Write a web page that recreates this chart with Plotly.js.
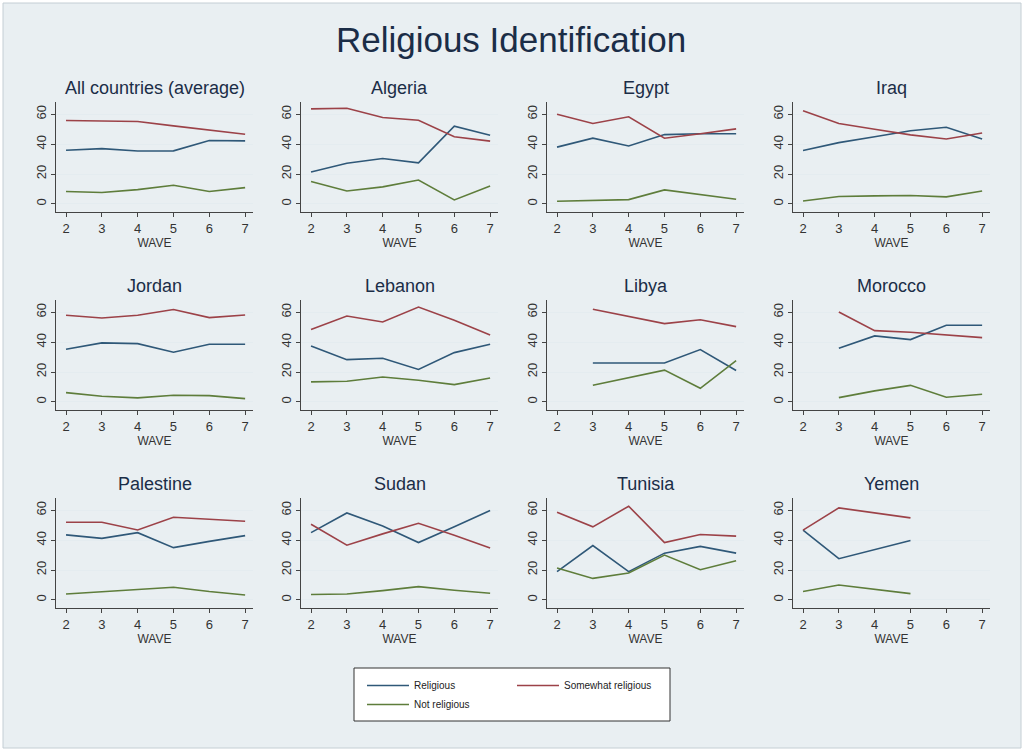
<!DOCTYPE html>
<html>
<head>
<meta charset="utf-8">
<script src="https://cdn.plot.ly/plotly-3.0.1.min.js"></script>
<style>html,body{margin:0;padding:0;background:#ffffff;}#chart{width:1024px;height:751px;}</style>
</head>
<body>
<div id="chart"></div>
<script>
// ---- data ----
const waves = [2, 3, 4, 5, 6, 7];
const countries = ["All countries (average)", "Algeria", "Egypt", "Iraq",
  "Jordan", "Lebanon", "Libya", "Morocco",
  "Palestine", "Sudan", "Tunisia", "Yemen"];
const seriesNames = ["Religious", "Somewhat religious", "Not religious"];

const religious = [
  [35.9, 37.0, 35.4, 35.5, 42.4, 42.2],
  [21.4, 27.2, 30.4, 27.5, 52.0, 46.0],
  [38.0, 44.0, 38.8, 46.4, 47.0, 47.0],
  [35.7, 41.0, 45.0, 49.0, 51.3, 43.5],
  [35.3, 39.5, 39.0, 33.3, 38.6, 38.6],
  [37.5, 28.3, 29.2, 21.7, 33.0, 38.6],
  [null, 26.0, null, 26.0, 35.0, 21.0],
  [null, 35.9, 44.2, 41.7, 51.3, 51.3],
  [43.5, 41.2, 45.0, 35.0, 39.2, 43.0],
  [45.0, 58.2, 49.5, 38.4, 49.0, 59.8],
  [18.9, 36.4, 18.9, 31.3, 35.8, 31.3],
  [46.7, 27.6, null, 39.8, null, null]
];
const somewhat = [
  [55.8, 55.5, 55.2, 52.2, 49.5, 46.6],
  [63.6, 64.0, 57.8, 56.0, 45.0, 42.0],
  [60.0, 53.8, 58.3, 44.0, 47.0, 50.2],
  [62.3, 53.8, 50.0, 46.2, 43.5, 47.5],
  [58.0, 56.2, 58.0, 61.8, 56.4, 58.2],
  [48.4, 57.5, 53.5, 63.5, 54.6, 44.8],
  [null, 62.0, null, 52.4, 55.0, 50.4],
  [null, 60.2, 47.7, 46.6, 45.0, 43.0],
  [52.0, 52.0, 46.8, 55.3, 54.0, 52.6],
  [50.6, 36.6, 44.2, 51.3, 43.3, 34.8],
  [58.7, 48.9, 62.7, 38.4, 43.8, 42.7],
  [46.7, 61.6, null, 54.9, null, null]
];
const notReligious = [
  [8.3, 7.6, 9.6, 12.5, 8.3, 10.9],
  [15.0, 8.7, 11.4, 16.0, 2.7, 12.0],
  [1.8, 2.2, 2.9, 9.4, 6.2, 3.1],
  [2.0, 5.0, 5.4, 5.6, 4.7, 8.7],
  [6.2, 3.8, 2.7, 4.5, 4.2, 2.2],
  [13.4, 13.8, 16.7, 14.5, 11.6, 16.0],
  [null, 11.1, null, 21.3, 9.1, 27.6],
  [null, 2.9, 7.4, 11.1, 3.1, 5.1],
  [4.0, 5.6, 6.7, 8.5, 5.6, 3.3],
  [3.6, 4.0, 6.2, 8.9, 6.5, 4.5],
  [21.3, 14.4, 18.0, 30.0, 20.2, 26.2],
  [5.6, 10.0, null, 4.2, null, null]
];
const xTicks = [2, 3, 4, 5, 6, 7];
const yTicks = [0, 20, 40, 60];

// ---- styling ----
const W = 1024, H = 751;
const colors = ["#2f5878", "#9c4248", "#5e7d3b"];
const FONT = "Liberation Sans, Arial, sans-serif";
const colLeft = [56, 301, 547, 793];
const plotW = 197;
const rowTop = [102, 300, 498];
const plotH = 110;
const px = v => v / W;
const py = v => 1 - v / H;

const allSeries = [religious, somewhat, notReligious];
const legendFor = ["legend", "legend2", "legend"];

const traces = [];
const layout = {
  width: W, height: H,
  margin: {l: 0, r: 0, t: 0, b: 0},
  paper_bgcolor: "#ffffff",
  plot_bgcolor: "#ffffff",
  font: {family: FONT, color: "#333333"},
  showlegend: true,
  title: {
    text: "Religious Identification",
    font: {family: FONT, size: 35, color: "#1b2d47"},
    x: px(511), xanchor: "center",
    y: py(40), yanchor: "middle", yref: "paper"
  },
  annotations: [],
  shapes: [
    {type: "rect", xref: "paper", yref: "paper", layer: "below",
     x0: px(3), x1: px(1021), y0: py(748), y1: py(3),
     fillcolor: "#e9eff2", line: {color: "#c4ced4", width: 1}},
    {type: "rect", xref: "paper", yref: "paper", layer: "below",
     x0: px(354), x1: px(670), y0: py(721), y1: py(668),
     fillcolor: "#ffffff", line: {color: "#333333", width: 1}}
  ],
  legend: {
    x: px(362), y: py(671), xanchor: "left", yanchor: "top",
    bgcolor: "rgba(0,0,0,0)", borderwidth: 0,
    font: {family: FONT, size: 10, color: "#222222"},
    tracegroupgap: 0, itemwidth: 42, traceorder: "normal"
  },
  legend2: {
    x: px(512), y: py(671), xanchor: "left", yanchor: "top",
    bgcolor: "rgba(0,0,0,0)", borderwidth: 0,
    font: {family: FONT, size: 10, color: "#222222"},
    itemwidth: 42
  }
};

countries.forEach((name, i) => {
  const row = Math.floor(i / 4), col = i % 4;
  const ax = i === 0 ? "" : String(i + 1);
  const xa = "x" + ax, ya = "y" + ax;
  allSeries.forEach((s, k) => {
    traces.push({
      type: "scatter", mode: "lines",
      x: waves, y: s[i],
      xaxis: xa, yaxis: ya,
      connectgaps: true,
      name: seriesNames[k],
      legend: legendFor[k],
      showlegend: i === 0,
      line: {color: colors[k], width: 1.6},
      hoverinfo: "skip"
    });
  });
  const x0 = colLeft[col], y0 = rowTop[row];
  layout["xaxis" + ax] = {
    domain: [px(x0), px(x0 + plotW)],
    anchor: ya,
    range: [1.72, 7.22],
    tickvals: xTicks,
    ticks: "outside", ticklen: 4, tickcolor: "#444444",
    showline: true, linecolor: "#444444", linewidth: 1,
    showgrid: false, zeroline: false,
    tickfont: {family: FONT, size: 13, color: "#333333"},
    title: {text: "WAVE", font: {family: FONT, size: 12, color: "#333333"}, standoff: 2}
  };
  layout["yaxis" + ax] = {
    domain: [py(y0 + plotH), py(y0)],
    anchor: xa,
    range: [-5.4, 68.2],
    tickvals: yTicks,
    tickangle: -90,
    ticks: "outside", ticklen: 4, tickcolor: "#444444",
    showline: true, linecolor: "#444444", linewidth: 1,
    showgrid: true, gridcolor: "#e4ecf0", gridwidth: 1,
    zeroline: false,
    tickfont: {family: FONT, size: 13, color: "#333333"}
  };
  layout.annotations.push({
    text: name, showarrow: false,
    xref: "paper", yref: "paper",
    x: px(x0 + plotW / 2), y: py(y0 - 14),
    xanchor: "center", yanchor: "middle",
    font: {family: FONT, size: 18, color: "#1b2d47"}
  });
});

Plotly.newPlot("chart", traces, layout, {staticPlot: true, displayModeBar: false});
</script>
</body>
</html>
